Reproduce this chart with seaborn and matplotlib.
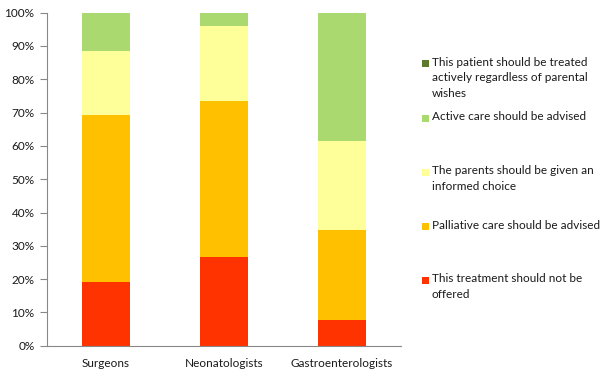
import matplotlib
matplotlib.use("Agg")
import matplotlib.pyplot as plt
from matplotlib.patches import Rectangle
import numpy as np
import pandas as pd
import seaborn as sns

# Survey responses by specialty (% of respondents)
specialties = ["Surgeons", "Neonatologists", "Gastroenterologists"]
not_offered = [19.2, 26.6, 7.7]
palliative = [50.1, 46.8, 26.9]
informed_choice = [19.2, 22.6, 26.9]
active_advised = [11.5, 4.0, 38.5]
treat_regardless = [0.0, 0.0, 0.0]

series_labels = [
    "This treatment should not be\noffered",
    "Palliative care should be advised",
    "The parents should be given an\ninformed choice",
    "Active care should be advised",
    "This patient should be treated\nactively regardless of parental\nwishes",
]
series_values = [not_offered, palliative, informed_choice, active_advised, treat_regardless]
series_colors = ["#FF3300", "#FFC000", "#FFFF99", "#A9D96F", "#5E7A2C"]

sns.set_theme(style="white")
plt.rcParams["font.family"] = ["Lato", "DejaVu Sans"]

fig = plt.figure(figsize=(6.01, 3.71), dpi=100)
ax = fig.add_axes([47 / 601, (371 - 345.7) / 371, (401 - 47) / 601, 333 / 371])

# Stacked bars: draw cumulative totals from the top segment down
cum = np.cumsum(np.array(series_values), axis=0)
for i in range(len(series_values) - 1, -1, -1):
    df = pd.DataFrame({"specialty": specialties, "value": cum[i]})
    sns.barplot(data=df, x="specialty", y="value", color=series_colors[i],
                width=0.4, saturation=1, linewidth=0, ax=ax)

ax.set_ylim(0, 100)
ax.set_xlim(-0.5, 2.5)
ax.set_yticks(np.arange(0, 101, 10))
ax.set_yticklabels([f"{v}%" for v in range(0, 101, 10)], fontsize=8.5, color="#1a1a1a")
ax.set_xticks([0, 1, 2])
ax.set_xticklabels(specialties, fontsize=8.5, color="#1a1a1a")
ax.set_xlabel("")
ax.set_ylabel("")

# Category separators on the x axis
ax.set_xticks([-0.5, 0.5, 1.5, 2.5], minor=True)
ax.tick_params(axis="x", which="major", length=0, pad=9)
ax.tick_params(axis="x", which="minor", length=5, width=0.8, color="#888888", direction="out")
ax.tick_params(axis="y", length=5, width=0.8, color="#888888", direction="out", pad=4, left=True)

for side in ["top", "right"]:
    ax.spines[side].set_visible(False)
for side in ["left", "bottom"]:
    ax.spines[side].set_color("#888888")
    ax.spines[side].set_linewidth(0.8)

# Legend, listed top to bottom in reverse stacking order
legend_rows = [63.5, 118, 172.5, 226.5, 280.5]
for row_y, idx in zip(legend_rows, range(len(series_labels) - 1, -1, -1)):
    fy = 1 - row_y / 371
    fig.patches.append(Rectangle((422 / 601, fy - 3.5 / 371), 7 / 601, 7 / 371,
                                 transform=fig.transFigure, facecolor=series_colors[idx],
                                 edgecolor="none"))
    fig.text(432 / 601, fy + 7 / 371, series_labels[idx], fontsize=8.5, color="#1a1a1a",
             va="top", ha="left", linespacing=1.55)

fig.savefig("out.png", dpi=100)
